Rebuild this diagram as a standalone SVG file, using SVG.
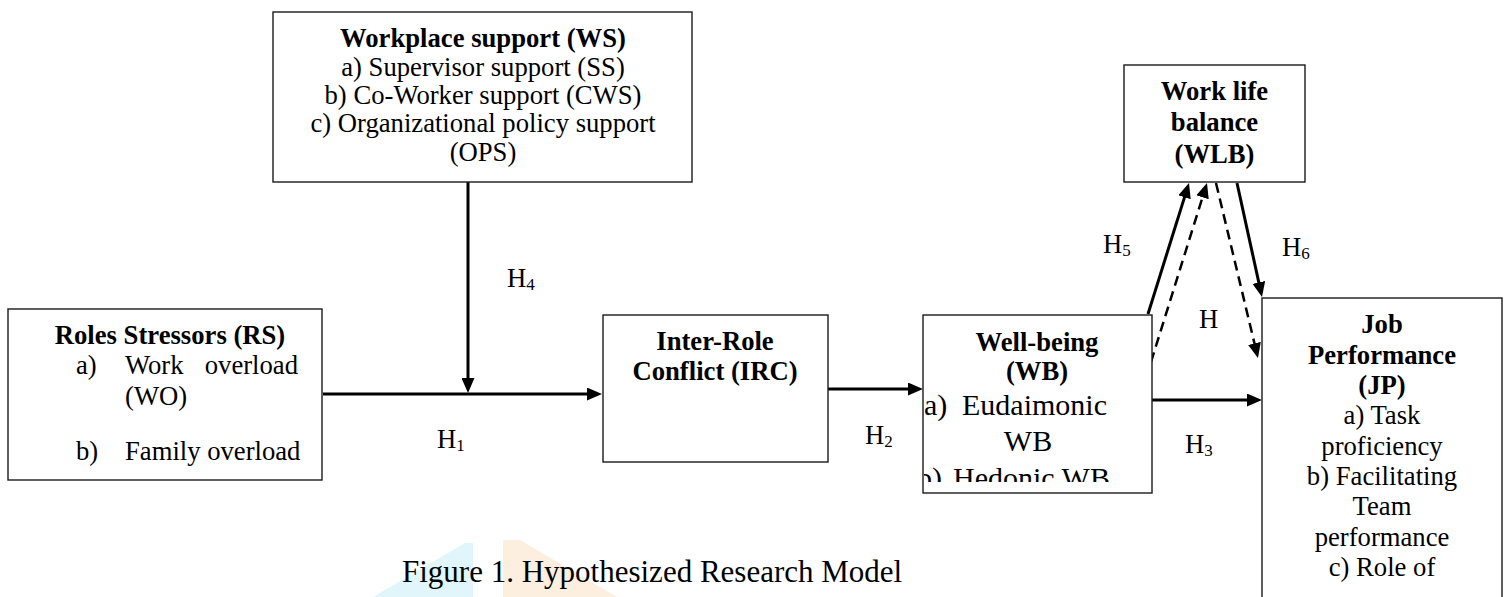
<svg xmlns="http://www.w3.org/2000/svg" width="1506" height="597" viewBox="0 0 1506 597">
<defs>
<marker id="ah" markerUnits="userSpaceOnUse" markerWidth="15" markerHeight="13" refX="7" refY="6.5" orient="auto" viewBox="0 0 15 13">
<path d="M0,0 L15,6.5 L0,13 z" fill="#000"/>
</marker>
<clipPath id="wbclip"><rect x="924" y="316" width="227" height="166"/></clipPath>
</defs>
<style>
.box{fill:#fff;stroke:#1a1a1a;stroke-width:1.4}
.t{font-family:"Liberation Serif","Times New Roman",serif;font-size:26.67px;fill:#000}
.b{font-weight:bold}
.c{text-anchor:middle}
.e{text-anchor:end}
.wb{font-size:30px}
.cap{font-size:31px}
.ln{stroke:#000;stroke-width:3;fill:none}
.dash{stroke-dasharray:10 6;stroke-width:2.5}
.sub{font-size:17px}
</style>
<rect width="1506" height="597" fill="#fff"/>
<g id="watermark" opacity="0.55">
<polygon points="373,597 465,543 473,543 473,597" fill="#c8f0f7"/>
<polygon points="503,540 520,540 617,597 503,597" fill="#fbe2c4"/>
</g>
<g id="connectors">
<line class="ln" x1="323" y1="394" x2="594" y2="394" marker-end="url(#ah)"/>
<line class="ln" x1="468" y1="182" x2="468" y2="385" marker-end="url(#ah)"/>
<line class="ln" x1="828" y1="389" x2="915" y2="389" marker-end="url(#ah)"/>
<line class="ln" x1="1152" y1="400" x2="1254" y2="400" marker-end="url(#ah)"/>
<line class="ln" x1="1148" y1="314" x2="1186.6" y2="190.6" marker-end="url(#ah)"/>
<line class="ln dash" x1="1151" y1="362" x2="1204.6" y2="190.6" marker-end="url(#ah)"/>
<line class="ln dash" x1="1216" y1="183" x2="1256.1" y2="350.2" marker-end="url(#ah)"/>
<line class="ln" x1="1237" y1="183" x2="1260.3" y2="289.2" marker-end="url(#ah)"/>
</g>
<g id="labels" class="t">
<text x="437" y="448">H<tspan class="sub" dy="3">1</tspan></text>
<text x="865" y="444">H<tspan class="sub" dy="3">2</tspan></text>
<text x="1185" y="453">H<tspan class="sub" dy="3">3</tspan></text>
<text x="507" y="287">H<tspan class="sub" dy="3">4</tspan></text>
<text x="1103" y="253">H<tspan class="sub" dy="3">5</tspan></text>
<text x="1282" y="256">H<tspan class="sub" dy="3">6</tspan></text>
<text x="1199" y="328">H</text>
</g>
<g id="ws">
<rect class="box" x="273" y="12" width="419" height="170"/>
<text class="t b c" x="483" y="47">Workplace support (WS)</text>
<text class="t c" x="483" y="75.5">a) Supervisor support (SS)</text>
<text class="t c" x="483" y="104">b) Co-Worker support (CWS)</text>
<text class="t c" x="483" y="132">c) Organizational policy support</text>
<text class="t c" x="483" y="160.5">(OPS)</text>
</g>
<g id="rs">
<rect class="box" x="8" y="309" width="314" height="171"/>
<text class="t b c" x="170" y="344">Roles Stressors (RS)</text>
<text class="t" x="76" y="374">a)</text>
<text class="t" x="125" y="374">Work</text>
<text class="t e" x="298" y="374">overload</text>
<text class="t" x="125" y="405">(WO)</text>
<text class="t" x="76" y="460">b)</text>
<text class="t" x="125" y="460">Family overload</text>
</g>
<g id="irc">
<rect class="box" x="603" y="315" width="225" height="147"/>
<text class="t b c" x="715" y="350">Inter-Role</text>
<text class="t b c" x="715" y="380">Conflict (IRC)</text>
</g>
<g id="wb">
<rect class="box" x="923" y="315" width="229" height="178"/>
<text class="t b c" x="1037" y="351">Well-being</text>
<text class="t b c" x="1037" y="380">(WB)</text>
<g clip-path="url(#wbclip)">
<text class="t wb" x="924" y="415">a)</text>
<text class="t wb" x="962" y="415">Eudaimonic</text>
<text class="t wb c" x="1028" y="451">WB</text>
<text class="t wb" x="917" y="488">b)</text>
<text class="t wb" x="953" y="488">Hedonic WB</text>
</g>
</g>
<g id="wlb">
<rect class="box" x="1124" y="65" width="181" height="117"/>
<text class="t b c" x="1214.5" y="100">Work life</text>
<text class="t b c" x="1214.5" y="131">balance</text>
<text class="t b c" x="1214.5" y="163">(WLB)</text>
</g>
<g id="jp">
<rect class="box" x="1262" y="298" width="240" height="340"/>
<text class="t b c" x="1382" y="333">Job</text>
<text class="t b c" x="1382" y="363.5">Performance</text>
<text class="t b c" x="1382" y="394">(JP)</text>
<text class="t c" x="1382" y="424">a) Task</text>
<text class="t c" x="1382" y="454.5">proficiency</text>
<text class="t c" x="1382" y="485">b) Facilitating</text>
<text class="t c" x="1382" y="515">Team</text>
<text class="t c" x="1382" y="545.5">performance</text>
<text class="t c" x="1382" y="576">c) Role of</text>
</g>
<g id="caption">
<text class="t cap" x="402" y="582">Figure 1. Hypothesized Research Model</text>
</g>
</svg>
